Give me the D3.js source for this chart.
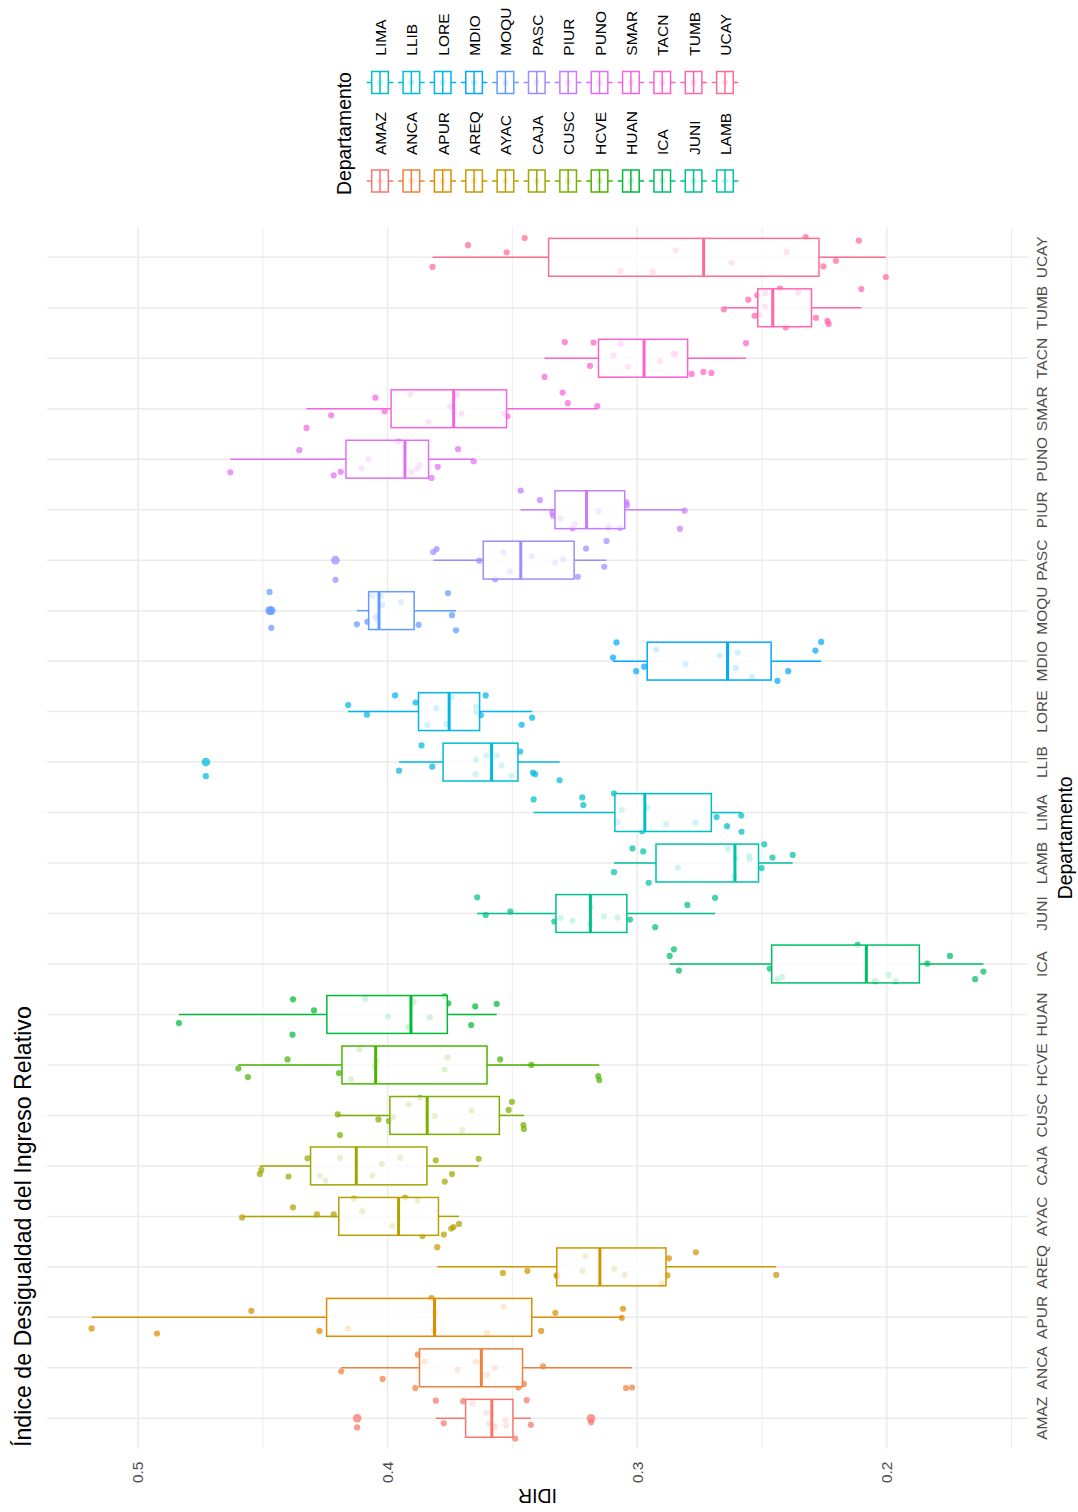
<!DOCTYPE html>
<html>
<head>
<meta charset="utf-8">
<script src="https://cdn.jsdelivr.net/npm/d3@7"></script>
<style>
  body { margin: 0; background: #ffffff; }
  svg { display: block; }
  text { font-family: "Liberation Sans", Arial, Helvetica, sans-serif; }
</style>
</head>
<body>
<svg id="chart" width="1078" height="1512"></svg>
<script>
// Departamentos (eje de categorías)
const departamentos = ["AMAZ","ANCA","APUR","AREQ","AYAC","CAJA","CUSC","HCVE","HUAN","ICA","JUNI","LAMB",
                       "LIMA","LLIB","LORE","MDIO","MOQU","PASC","PIUR","PUNO","SMAR","TACN","TUMB","UCAY"];

// Marcas del eje IDIR
const idirTicks = [0.2, 0.3, 0.4, 0.5];
const idirMinorTicks = [0.15, 0.25, 0.35, 0.45];

// IDIR por departamento y desplazamiento horizontal (jitter, en fracción de la banda)
const idir_AMAZ = [0.4122,0.3807,0.3775,0.3697,0.3659,0.3605,0.3594,0.3571,0.3528,0.3525,0.3489,0.3443,0.3426,0.3185];
const jit_AMAZ  = [-0.18,0.35,-0.10,0.34,0.29,0.11,-0.11,-0.17,-0.04,-0.15,-0.40,0.36,-0.13,-0.08];
const idir_ANCA = [0.4186,0.4020,0.3889,0.3879,0.3852,0.3720,0.3646,0.3603,0.3570,0.3476,0.3454,0.3377,0.3045,0.3021];
const jit_ANCA  = [-0.07,-0.22,-0.40,0.26,0.13,-0.04,0.12,-0.14,0.00,-0.39,-0.32,0.03,-0.40,-0.39];
const idir_APUR = [0.5186,0.4924,0.4546,0.4273,0.4159,0.3824,0.3815,0.3809,0.3602,0.3535,0.3385,0.3328,0.3062,0.3057];
const jit_APUR  = [-0.22,-0.32,0.13,-0.27,-0.22,0.38,-0.25,0.09,-0.31,0.21,-0.27,0.09,-0.01,0.17];
const idir_AREQ = [0.3801,0.3538,0.3440,0.3323,0.3320,0.3219,0.3207,0.3092,0.3051,0.2902,0.2879,0.2873,0.2765,0.2443];
const jit_AREQ  = [0.39,-0.12,-0.08,-0.17,-0.18,-0.08,0.21,-0.04,-0.16,-0.33,-0.17,0.17,0.29,-0.16];
const idir_AYAC = [0.4583,0.4379,0.4283,0.4216,0.4135,0.4102,0.3982,0.3930,0.3880,0.3860,0.3775,0.3745,0.3736,0.3714];
const jit_AYAC  = [-0.02,0.18,0.04,0.04,0.35,0.10,-0.19,0.37,0.31,-0.39,-0.36,-0.24,-0.21,-0.15];
const idir_CAJA = [0.4512,0.4506,0.4397,0.4321,0.4272,0.4249,0.4190,0.4061,0.4023,0.3949,0.3807,0.3771,0.3742,0.3635];
const jit_CAJA  = [-0.16,-0.08,-0.21,0.15,-0.19,-0.29,0.16,-0.19,0.04,0.16,0.11,-0.31,-0.16,0.14];
const idir_CUSC = [0.4200,0.4191,0.4037,0.3995,0.3979,0.3916,0.3871,0.3812,0.3701,0.3664,0.3515,0.3502,0.3456,0.3454];
const jit_CUSC  = [0.02,-0.39,-0.08,-0.11,-0.03,0.22,0.35,-0.01,-0.29,0.10,0.11,0.27,-0.19,-0.27];
const idir_HCVE = [0.4598,0.4560,0.4401,0.4195,0.4147,0.4113,0.4051,0.4045,0.3772,0.3760,0.3549,0.3424,0.3156,0.3152];
const jit_HCVE  = [-0.07,-0.24,0.11,-0.16,-0.28,0.31,-0.03,0.08,-0.09,0.15,0.11,0.00,-0.22,-0.30];
const idir_HUAN = [0.4836,0.4381,0.4379,0.4295,0.4089,0.3999,0.3917,0.3896,0.3831,0.3772,0.3757,0.3665,0.3649,0.3563];
const jit_HUAN  = [-0.17,-0.40,0.30,0.08,0.31,-0.04,-0.25,0.25,-0.06,0.36,0.22,-0.21,0.16,0.21];
const idir_ICA  = [0.2870,0.2853,0.2833,0.2469,0.2438,0.2419,0.2117,0.2047,0.1993,0.1964,0.1838,0.1747,0.1646,0.1613];
const jit_ICA   = [0.16,0.29,-0.13,-0.09,-0.30,-0.26,0.38,-0.34,-0.22,-0.34,0.01,0.16,-0.30,-0.15];
const idir_JUNI = [0.3641,0.3607,0.3508,0.3332,0.3307,0.3259,0.3189,0.3186,0.3133,0.3079,0.3029,0.2928,0.2799,0.2688];
const jit_JUNI  = [0.32,-0.03,0.04,-0.16,-0.09,-0.14,-0.21,0.13,-0.06,-0.08,-0.12,-0.27,0.17,0.31];
const idir_LAMB = [0.3093,0.3019,0.2976,0.2954,0.2837,0.2637,0.2612,0.2605,0.2552,0.2550,0.2502,0.2491,0.2458,0.2377];
const jit_LAMB  = [-0.18,0.29,0.23,-0.39,-0.09,0.28,-0.26,0.10,0.14,0.08,-0.10,0.37,0.11,0.16];
const idir_LIMA = [0.3415,0.3220,0.3216,0.3093,0.3062,0.3079,0.2959,0.2980,0.2884,0.2766,0.2682,0.2640,0.2583,0.2582];
const jit_LIMA  = [0.26,0.30,0.15,0.38,0.05,-0.19,0.10,-0.37,-0.23,-0.20,-0.09,-0.27,-0.06,-0.38];
const idir_LLIB = [0.4728,0.3954,0.3864,0.3821,0.3645,0.3604,0.3563,0.3544,0.3648,0.3504,0.3469,0.3418,0.3409,0.3311];
const jit_LLIB  = [-0.28,-0.17,0.33,-0.09,0.05,0.13,0.13,-0.07,-0.24,-0.27,0.21,-0.21,-0.24,-0.36];
const idir_LORE = [0.4158,0.4083,0.3970,0.3888,0.3841,0.3805,0.3764,0.3743,0.3646,0.3645,0.3627,0.3607,0.3463,0.3421];
const jit_LORE  = [0.13,-0.06,0.32,0.18,-0.27,0.07,-0.25,0.28,0.10,-0.01,-0.07,0.32,-0.26,-0.12];
const idir_MDIO = [0.3083,0.3097,0.3004,0.2972,0.2924,0.2806,0.2670,0.2597,0.2606,0.2540,0.2438,0.2395,0.2286,0.2263];
const jit_MDIO  = [0.37,0.07,-0.20,-0.11,0.23,-0.06,0.11,0.17,-0.14,-0.32,-0.39,-0.20,0.21,0.38];
const idir_MOQU = [0.4473,0.4466,0.4123,0.4081,0.4061,0.4048,0.4041,0.4028,0.4021,0.3947,0.3876,0.3758,0.3742,0.3726];
const jit_MOQU  = [0.37,-0.34,-0.27,-0.22,0.29,-0.12,-0.18,0.29,0.11,0.17,-0.28,0.35,-0.09,-0.39];
const idir_PASC = [0.4209,0.3817,0.3804,0.3633,0.3536,0.3569,0.3510,0.3423,0.3329,0.3297,0.3238,0.3205,0.3132,0.3123];
const jit_PASC  = [-0.39,0.16,0.22,-0.01,0.15,-0.38,-0.22,0.08,-0.05,0.02,-0.33,0.23,-0.13,0.38];
const idir_PIUR = [0.3467,0.3390,0.3340,0.3337,0.3307,0.3259,0.3250,0.3156,0.3116,0.3068,0.3044,0.3041,0.2810,0.2829];
const jit_PIUR  = [0.38,0.19,-0.06,-0.12,-0.17,-0.37,-0.28,-0.03,-0.34,-0.36,0.15,0.09,-0.02,-0.38];
const idir_PUNO = [0.4630,0.4354,0.4216,0.4188,0.4104,0.4077,0.3956,0.3905,0.3881,0.3872,0.3824,0.3799,0.3718,0.3655];
const jit_PUNO  = [-0.26,0.18,-0.32,-0.25,-0.18,0.00,0.35,-0.25,-0.19,-0.11,-0.37,-0.15,0.20,-0.04];
const idir_SMAR = [0.4049,0.3908,0.4012,0.4226,0.4325,0.3836,0.3750,0.3721,0.3704,0.3534,0.3520,0.3299,0.3278,0.3160];
const jit_SMAR  = [0.22,0.29,-0.05,-0.13,-0.38,-0.26,0.04,0.27,-0.10,-0.10,-0.15,0.32,0.11,0.05];
const idir_TACN = [0.3371,0.3290,0.3189,0.3175,0.3096,0.3067,0.3036,0.2909,0.2855,0.2846,0.2782,0.2735,0.2703,0.2564];
const jit_TACN  = [-0.37,0.32,-0.15,0.31,0.06,0.28,-0.17,-0.06,0.09,0.08,-0.31,-0.27,-0.29,0.30];
const idir_TUMB = [0.2653,0.2555,0.2519,0.2486,0.2428,0.2355,0.2488,0.2530,0.2511,0.2405,0.2284,0.2238,0.2233,0.2102];
const jit_TUMB  = [-0.03,0.16,0.25,0.29,0.38,0.30,0.02,-0.16,-0.14,-0.39,-0.20,-0.26,-0.32,0.37];
const idir_UCAY = [0.3820,0.3678,0.3523,0.3451,0.3067,0.2937,0.2846,0.2622,0.2401,0.2325,0.2254,0.2204,0.2112,0.2004];
const jit_UCAY  = [-0.19,0.24,0.10,0.38,-0.27,-0.29,0.14,-0.11,0.11,0.40,-0.18,-0.07,0.33,-0.39];

// Tabla de trabajo construida a partir de los arreglos anteriores
const tabla = {
  AMAZ: [idir_AMAZ, jit_AMAZ], ANCA: [idir_ANCA, jit_ANCA], APUR: [idir_APUR, jit_APUR],
  AREQ: [idir_AREQ, jit_AREQ], AYAC: [idir_AYAC, jit_AYAC], CAJA: [idir_CAJA, jit_CAJA],
  CUSC: [idir_CUSC, jit_CUSC], HCVE: [idir_HCVE, jit_HCVE], HUAN: [idir_HUAN, jit_HUAN],
  ICA:  [idir_ICA,  jit_ICA],  JUNI: [idir_JUNI, jit_JUNI], LAMB: [idir_LAMB, jit_LAMB],
  LIMA: [idir_LIMA, jit_LIMA], LLIB: [idir_LLIB, jit_LLIB], LORE: [idir_LORE, jit_LORE],
  MDIO: [idir_MDIO, jit_MDIO], MOQU: [idir_MOQU, jit_MOQU], PASC: [idir_PASC, jit_PASC],
  PIUR: [idir_PIUR, jit_PIUR], PUNO: [idir_PUNO, jit_PUNO], SMAR: [idir_SMAR, jit_SMAR],
  TACN: [idir_TACN, jit_TACN], TUMB: [idir_TUMB, jit_TUMB], UCAY: [idir_UCAY, jit_UCAY]
};

// Paleta de tonos HCL (polar Luv), L = 65, C = 100, tonos equiespaciados desde 15°
function hclLuv(h, c, l) {
  const hr = h * Math.PI / 180;
  const U = c * Math.cos(hr), V = c * Math.sin(hr);
  const Xn = 95.047, Yn = 100.0, Zn = 108.883;
  const den = Xn + 15 * Yn + 3 * Zn;
  const un = 4 * Xn / den, vn = 9 * Yn / den;
  const Y = Yn * (l > 8 ? Math.pow((l + 16) / 116, 3) : l / 903.3);
  const u = U / (13 * l) + un, v = V / (13 * l) + vn;
  const X = 9 * Y * u / (4 * v);
  const Z = -X / 3 - 5 * Y + 3 * Y / v;
  const x = X / 100, y = Y / 100, z = Z / 100;
  const lin = [
     3.240479 * x - 1.537150 * y - 0.498535 * z,
    -0.969256 * x + 1.875992 * y + 0.041556 * z,
     0.055648 * x - 0.204043 * y + 1.057311 * z
  ];
  const g = lin.map(t => {
    const s = t <= 0.0031308 ? 12.92 * t : 1.055 * Math.pow(t, 1 / 2.4) - 0.055;
    return Math.round(Math.max(0, Math.min(1, s)) * 255);
  });
  return d3.rgb(g[0], g[1], g[2]).formatHex();
}
const n = departamentos.length;
const color = d3.scaleOrdinal()
  .domain(departamentos)
  .range(departamentos.map((d, i) => hclLuv(15 + 360 * i / n, 100, 65)));

// Estadísticos del diagrama de caja (cuantiles tipo 7, bigotes a 1.5 RIC)
function resumen(vals) {
  const s = vals.slice().sort(d3.ascending);
  const q1 = d3.quantileSorted(s, 0.25), med = d3.quantileSorted(s, 0.5), q3 = d3.quantileSorted(s, 0.75);
  const iqr = q3 - q1;
  const dentro = s.filter(v => v >= q1 - 1.5 * iqr && v <= q3 + 1.5 * iqr);
  return {
    q1, med, q3,
    lo: d3.min(dentro), hi: d3.max(dentro),
    atipicos: s.filter(v => v < q1 - 1.5 * iqr || v > q3 + 1.5 * iqr)
  };
}

// El gráfico se compone en un lienzo apaisado de 1512 x 1078 y se gira 90° a la izquierda
const W = 1512, H = 1078;
const svg = d3.select("#chart");
svg.append("rect").attr("width", 1078).attr("height", 1512).attr("fill", "#ffffff");
const g = svg.append("g").attr("transform", `translate(0,${W}) rotate(-90)`);

const x = d3.scalePoint().domain(departamentos).range([93.7, 1254.7]);
const paso = x.step();
const todos = departamentos.flatMap(d => tabla[d][0]);
const [vmin, vmax] = d3.extent(todos);
const exp = (vmax - vmin) * 0.05;
const y = d3.scaleLinear().domain([vmin - exp, vmax + exp]).range([1028, 47]);

const px0 = x(departamentos[0]) - 0.6 * paso, px1 = x(departamentos[n - 1]) + 0.6 * paso;
const py0 = 47, py1 = 1028;

// Rejilla
const rejilla = g.append("g");
rejilla.selectAll("line.menor").data(idirMinorTicks).join("line")
  .attr("x1", px0).attr("x2", px1).attr("y1", d => y(d)).attr("y2", d => y(d))
  .attr("stroke", "#EBEBEB").attr("stroke-width", 0.9);
rejilla.selectAll("line.mayor").data(idirTicks).join("line")
  .attr("x1", px0).attr("x2", px1).attr("y1", d => y(d)).attr("y2", d => y(d))
  .attr("stroke", "#EBEBEB").attr("stroke-width", 1.5);
rejilla.selectAll("line.cat").data(departamentos).join("line")
  .attr("x1", d => x(d)).attr("x2", d => x(d)).attr("y1", py0).attr("y2", py1)
  .attr("stroke", "#EBEBEB").attr("stroke-width", 1.5);

// Puntos con jitter
const puntos = departamentos.flatMap(d => tabla[d][0].map((v, i) => ({ dep: d, v, j: tabla[d][1][i] })));
g.append("g").selectAll("circle").data(puntos).join("circle")
  .attr("cx", p => x(p.dep) + p.j * paso)
  .attr("cy", p => y(p.v))
  .attr("r", 3.1)
  .attr("fill", p => color(p.dep))
  .attr("fill-opacity", 0.72);

// Diagramas de caja
const mitad = 0.375 * paso;
const cajas = g.append("g").selectAll("g").data(departamentos).join("g");
cajas.each(function (d) {
  const s = resumen(tabla[d][0]);
  const c = color(d), cx = x(d);
  const sel = d3.select(this);
  sel.append("line").attr("x1", cx).attr("x2", cx).attr("y1", y(s.q3)).attr("y2", y(s.hi))
    .attr("stroke", c).attr("stroke-width", 1.5);
  sel.append("line").attr("x1", cx).attr("x2", cx).attr("y1", y(s.q1)).attr("y2", y(s.lo))
    .attr("stroke", c).attr("stroke-width", 1.5);
  sel.append("rect").attr("x", cx - mitad).attr("width", 2 * mitad)
    .attr("y", y(s.q3)).attr("height", y(s.q1) - y(s.q3))
    .attr("fill", "#ffffff").attr("fill-opacity", 0.75)
    .attr("stroke", c).attr("stroke-width", 1.5);
  sel.append("line").attr("x1", cx - mitad).attr("x2", cx + mitad).attr("y1", y(s.med)).attr("y2", y(s.med))
    .attr("stroke", c).attr("stroke-width", 3);
  sel.selectAll("circle").data(s.atipicos).join("circle")
    .attr("cx", cx).attr("cy", v => y(v)).attr("r", 4.3)
    .attr("fill", c).attr("fill-opacity", 0.75);
});

// Eje IDIR (etiquetas)
g.append("g").selectAll("text").data(idirTicks).join("text")
  .attr("x", 50.5).attr("y", d => y(d)).attr("dy", "0.35em")
  .attr("text-anchor", "end").attr("font-size", 15.5).attr("fill", "#4D4D4D")
  .text(d => d3.format(".1f")(d));

// Eje de departamentos (etiquetas)
g.append("g").selectAll("text").data(departamentos).join("text")
  .attr("x", d => x(d)).attr("y", 1046.5)
  .attr("text-anchor", "middle").attr("font-size", 15.5).attr("fill", "#4D4D4D")
  .text(d => d);

// Títulos de ejes y del gráfico
g.append("text").attr("x", (px0 + px1) / 2).attr("y", 1071.5)
  .attr("text-anchor", "middle").attr("font-size", 19.4).attr("fill", "#000")
  .text("Departamento");
g.append("text").attr("transform", `translate(23,${(py0 + py1) / 2}) rotate(-90)`)
  .attr("text-anchor", "middle").attr("font-size", 19.4).attr("fill", "#000")
  .text("IDIR");
g.append("text").attr("x", 65).attr("y", 31)
  .attr("font-size", 23.2).attr("fill", "#000")
  .text("Índice de Desigualdad del Ingreso Relativo");

// Leyenda
const leyenda = g.append("g");
leyenda.append("text").attr("x", 1317).attr("y", 351)
  .attr("font-size", 19.4).attr("fill", "#000").text("Departamento");
const filaY0 = 380, filaPaso = 31.36;
const colKey = [1331, 1429.5], colTxt = [1357, 1456.3];
departamentos.forEach((d, i) => {
  const col = Math.floor(i / 12), fila = i % 12;
  const cy = filaY0 + fila * filaPaso, cx = colKey[col], c = color(d);
  const k = leyenda.append("g");
  k.append("circle").attr("cx", cx).attr("cy", cy).attr("r", 3.1).attr("fill", c).attr("fill-opacity", 0.72);
  k.append("line").attr("x1", cx).attr("x2", cx).attr("y1", cy - 13.3).attr("y2", cy - 8.3)
    .attr("stroke", c).attr("stroke-width", 1.5);
  k.append("line").attr("x1", cx).attr("x2", cx).attr("y1", cy + 8.3).attr("y2", cy + 13.3)
    .attr("stroke", c).attr("stroke-width", 1.5);
  k.append("rect").attr("x", cx - 11).attr("y", cy - 8.3).attr("width", 22).attr("height", 16.6)
    .attr("fill", "#ffffff").attr("fill-opacity", 0.75).attr("stroke", c).attr("stroke-width", 1.5);
  k.append("line").attr("x1", cx - 11).attr("x2", cx + 11).attr("y1", cy).attr("y2", cy)
    .attr("stroke", c).attr("stroke-width", 1.5);
  leyenda.append("text").attr("x", colTxt[col]).attr("y", cy + 6)
    .attr("font-size", 15.5).attr("fill", "#000").text(d);
});
</script>
</body>
</html>
